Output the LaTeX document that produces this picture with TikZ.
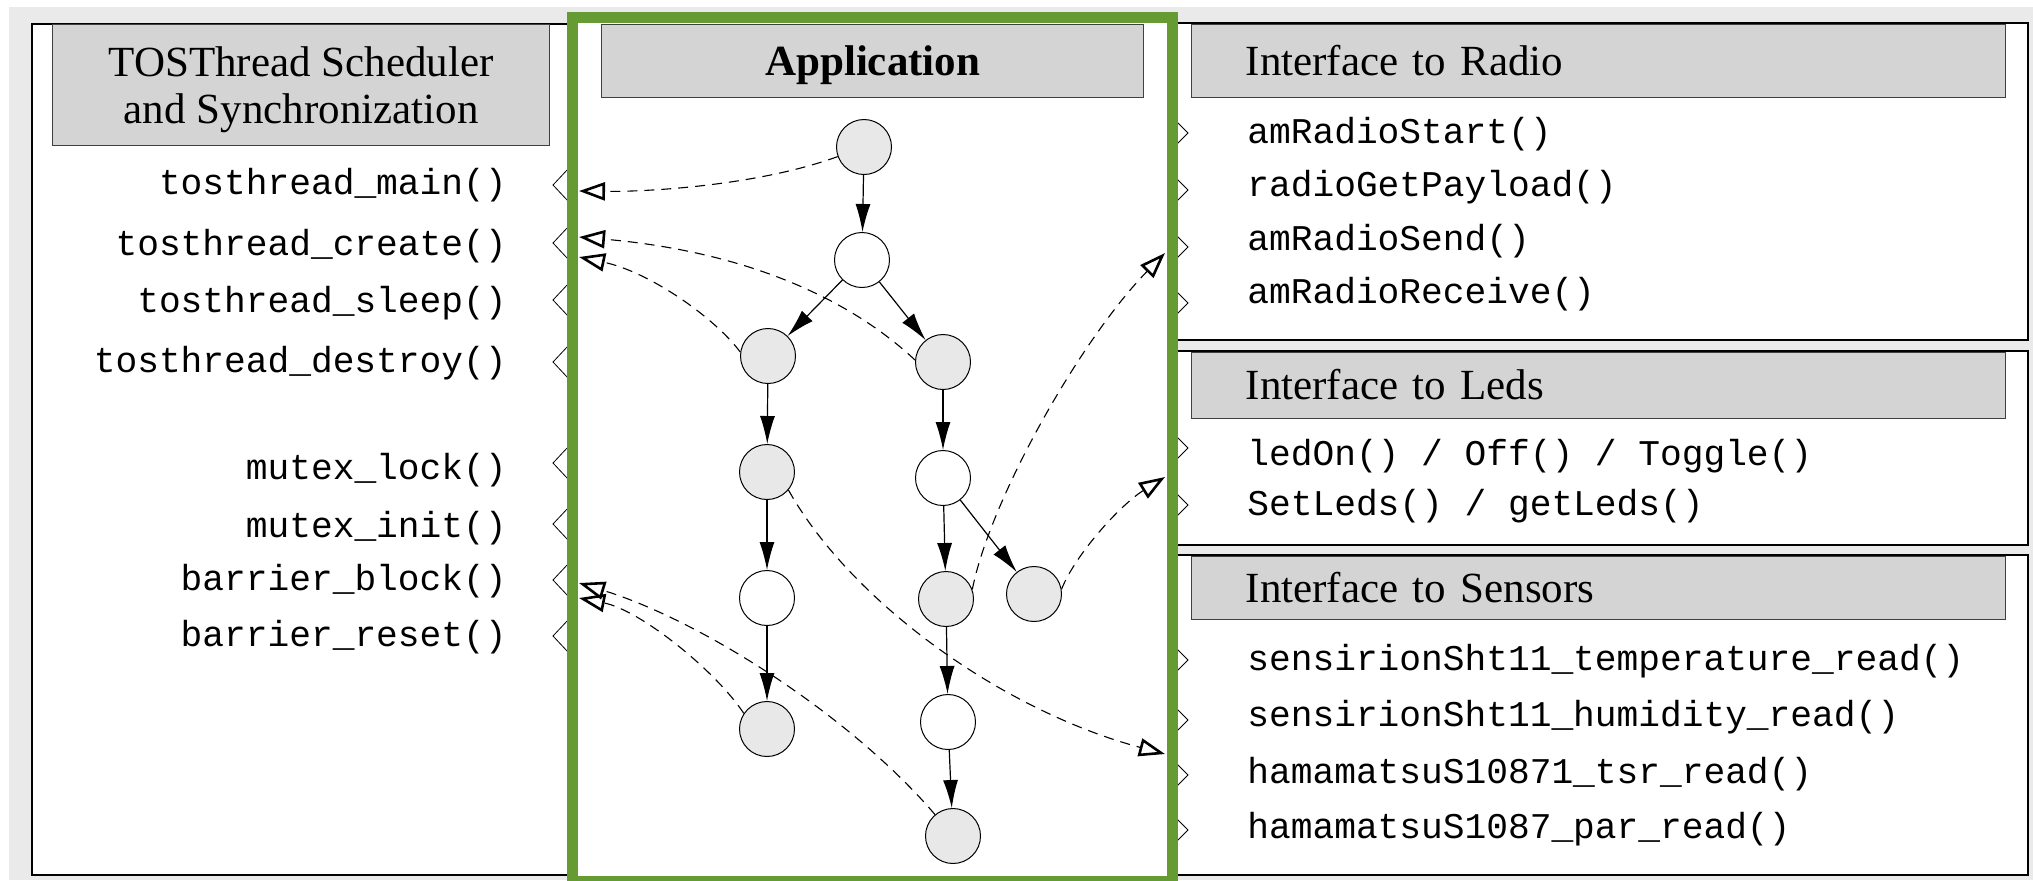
\documentclass[tikz,border=0pt]{standalone}
\usepackage{fontspec}
\setmainfont{Liberation Serif}
\setmonofont{Liberation Mono}
\usepackage{tikz}
\usetikzlibrary{arrows.meta, positioning, calc}
\definecolor{hijauApp}{RGB}{102,155,51}
\definecolor{abuLatar}{RGB}{234,234,234}
\definecolor{abuJudul}{RGB}{212,212,212}
\definecolor{abuSimpul}{RGB}{232,232,232}

\begin{document}
\begin{tikzpicture}[x=0.5pt, y=-0.5pt,
  kotak/.style={draw, line width=0.7pt, fill=white},
  judul/.style={draw=black!75, fill=abuJudul, line width=0.7pt, inner sep=0pt, anchor=north west,
    font=\fontsize{21.5}{23.3}\selectfont},
  judulR/.style={judul, minimum width=407pt, text width=353pt, align=left, inner xsep=27pt,
    text height=14.2pt, text depth=0pt},
  fungsi/.style={font=\fontsize{18.1}{20}\ttfamily, inner sep=0pt},
  fungsiL/.style={fungsi, anchor=base east},
  fungsiR/.style={fungsi, anchor=base west},
  simpul/.style={circle, draw, line width=0.5pt, minimum size=27.5pt, inner sep=0pt},
  simpulA/.style={simpul, fill=abuSimpul},
  simpulP/.style={simpul, fill=white},
  panah/.style={-{Latex[length=14pt, width=7.5pt]}, line width=0.6pt},
  panggil/.style={dash pattern=on 5pt off 3.5pt, line width=0.55pt,
    -{Triangle[open, length=13pt, width=9pt, line width=1.3pt]}},
  takik/.style={line width=0.4pt},
]
  \useasboundingbox (0,0) rectangle (2033,880);
  \fill[abuLatar] (9,7) rectangle (2033,880);

  % panel kiri, kanan dan area aplikasi
  \draw[kotak] (32,24) rectangle (572,875);
  \draw[kotak] (1172,23) rectangle (2028,340);
  \draw[kotak] (1172,351) rectangle (2028,545);
  \draw[kotak] (1172,555) rectangle (2028,875);
  \fill[white] (572,17) rectangle (1172,880);

  \foreach \y in {185,243,300,362,463,524,580,636}
    \draw[takik] (568,\y-16) -- (553,\y) -- (568,\y+16);
  \foreach \y in {133,190,247,303,448,505,660,720,775,830}
    \draw[takik] (1176,\y-12) -- (1188,\y) -- (1176,\y+12);

  \draw[hijauApp, line width=5.5pt] (572,17) rectangle (1172,881);

  \node[judul, minimum width=248.5pt, minimum height=60.5pt, align=center, text depth=0pt] (hSched) at (52,24)
    {TOSThread Scheduler\\and Synchronization};
  \node[judul, minimum width=271pt, minimum height=36.5pt, text height=14.2pt, text depth=0pt,
    font=\fontsize{21.5}{23.3}\selectfont\bfseries] (hApp) at (601,24) {Application};
  \node[judulR, minimum height=36.5pt] (hRadio) at (1191,24) {Interface to Radio};
  \node[judulR, minimum height=33pt] (hLeds) at (1191,352) {Interface to Leds};
  \node[judulR, minimum height=31.5pt] (hSensor) at (1191,556) {Interface to Sensors};

  \node[fungsiL] (fMain) at (507,194) {tosthread\_main()};
  \node[fungsiL] (fCreate) at (507,255) {tosthread\_create()};
  \node[fungsiL] (fSleep) at (507,312) {tosthread\_sleep()};
  \node[fungsiL] (fDestroy) at (507,372) {tosthread\_destroy()};
  \node[fungsiL] (fLock) at (507,479) {mutex\_lock()};
  \node[fungsiL] (fInit) at (507,537) {mutex\_init()};
  \node[fungsiL] (fBlock) at (507,590) {barrier\_block()};
  \node[fungsiL] (fReset) at (507,646) {barrier\_reset()};

  \node[fungsiR] (rStart) at (1247,143) {amRadioStart()};
  \node[fungsiR] (rPayload) at (1247,196) {radioGetPayload()};
  \node[fungsiR] (rSend) at (1247,250) {amRadioSend()};
  \node[fungsiR] (rReceive) at (1247,303) {amRadioReceive()};
  \node[fungsiR] (lOn) at (1247,465) {ledOn() / Off() / Toggle()};
  \node[fungsiR] (lSet) at (1247,515) {SetLeds() / getLeds()};
  \node[fungsiR] (sTemp) at (1247,670) {sensirionSht11\_temperature\_read()};
  \node[fungsiR] (sHumid) at (1247,726) {sensirionSht11\_humidity\_read()};
  \node[fungsiR] (sTsr) at (1247,783) {hamamatsuS10871\_tsr\_read()};
  \node[fungsiR] (sPar) at (1247,838) {hamamatsuS1087\_par\_read()};

  % thread aplikasi
  \node[simpulA] (s1) at (864,147) {};
  \node[simpulP] (s2) at (862,260) {};
  \node[simpulA] (s3) at (768,356) {};
  \node[simpulA] (s4) at (943,362) {};
  \node[simpulA] (s5) at (767,472) {};
  \node[simpulP] (s6) at (943,478) {};
  \node[simpulP] (s7) at (767,598) {};
  \node[simpulA] (s8) at (946,599) {};
  \node[simpulA] (s9) at (1034,594) {};
  \node[simpulA] (s10) at (767,729) {};
  \node[simpulP] (s11) at (948,722) {};
  \node[simpulA] (s12) at (953,836) {};

  \draw[panah] (s1) -- (s2);
  \draw[panah] (s2) -- (s3);
  \draw[panah] (s2) -- (s4);
  \draw[panah] (s3) -- (s5);
  \draw[panah] (s4) -- (s6);
  \draw[panah] (s5) -- (s7);
  \draw[panah] (s7) -- (s10);
  \draw[panah] (s6) -- (s8);
  \draw[panah] (s6) -- (s9);
  \draw[panah] (s8) -- (s11);
  \draw[panah] (s11) -- (s12);

  % panggilan ke antarmuka
  \coordinate (kMain) at (579,191);
  \coordinate (kCreateA) at (579,237);
  \coordinate (kCreateB) at (579,257);
  \coordinate (kBlockA) at (579,583);
  \coordinate (kBlockB) at (579,598);
  \coordinate (kSend) at (1165,253);
  \coordinate (kLed) at (1165,477);
  \coordinate (kSensor) at (1165,754);

  \draw[panggil] (s1.200) .. controls (760,185) and (650,192) .. (kMain);
  \draw[panggil] (s4.176) .. controls (840,290) and (730,250) .. (kCreateA);
  \draw[panggil] (s3.172) .. controls (715,318) and (650,272) .. (kCreateB);
  \draw[panggil] (s12.130) .. controls (850,715) and (700,620) .. (kBlockA);
  \draw[panggil] (s10.146) .. controls (715,670) and (640,610) .. (kBlockB);
  \draw[panggil] (s5.-40) .. controls (850,600) and (1000,710) .. (kSensor);
  \draw[panggil] (s8.20) .. controls (990,500) and (1080,340) .. (kSend);
  \draw[panggil] (s9.10) .. controls (1075,555) and (1120,505) .. (kLed);
\end{tikzpicture}
\end{document}
